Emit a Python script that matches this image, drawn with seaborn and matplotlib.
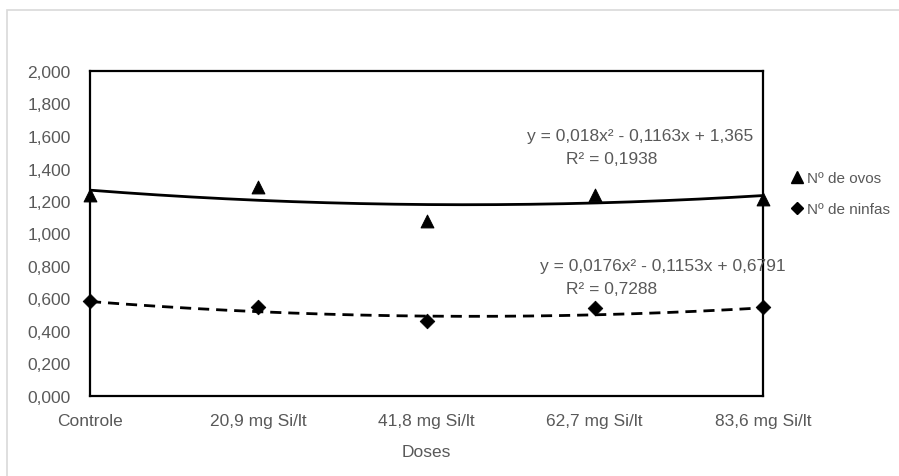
import numpy as np
import pandas as pd
import matplotlib.pyplot as plt
import seaborn as sns
from matplotlib.lines import Line2D
from matplotlib.patches import Rectangle
from matplotlib.ticker import FuncFormatter

# dados
doses = ['Controle', '20,9 mg Si/lt', '41,8 mg Si/lt', '62,7 mg Si/lt', '83,6 mg Si/lt']
ovos = [1.24, 1.286, 1.077, 1.24, 1.21]
ninfas = [0.585, 0.545, 0.46, 0.54, 0.545]
# coeficientes das linhas de tendência (polinomial de ordem 2)
coef_ovos = [0.018, -0.1163, 1.365]
coef_ninfas = [0.0176, -0.1153, 0.6791]
eq_ovos = ['y = 0,018x² - 0,1163x + 1,365', 'R² = 0,1938']
eq_ninfas = ['y = 0,0176x² - 0,1153x + 0,6791', 'R² = 0,7288']
y_ticks = [0.0, 0.2, 0.4, 0.6, 0.8, 1.0, 1.2, 1.4, 1.6, 1.8, 2.0]

sns.set_style('white')
plt.rcParams['font.family'] = ['Liberation Sans', 'DejaVu Sans']

x = np.arange(1, len(doses) + 1)
df = pd.DataFrame({'x': x, 'ovos': ovos, 'ninfas': ninfas})
xs = np.linspace(1, 5, 200)
tend = pd.DataFrame({'x': xs,
                     'ovos': np.polyval(coef_ovos, xs),
                     'ninfas': np.polyval(coef_ninfas, xs)})

fig = plt.figure(figsize=(8.99, 4.77), dpi=100)
ax = fig.add_axes([90/899, 1 - 397/477, 673/899, 325/477])

# moldura externa cinza
fig.patches.append(Rectangle((7/899, -0.1), 1.2, 1 - 11/477 + 0.1,
                             transform=fig.transFigure, fill=False,
                             edgecolor='#d9d9d9', linewidth=1.2))

sns.lineplot(data=tend, x='x', y='ovos', ax=ax, color='black', linewidth=2)
sns.lineplot(data=tend, x='x', y='ninfas', ax=ax, color='black', linewidth=2,
             linestyle=(0, (4, 2.5)))
sns.scatterplot(data=df, x='x', y='ovos', ax=ax, marker='^', s=85,
                color='black', edgecolor='black', clip_on=False, zorder=5)
sns.scatterplot(data=df, x='x', y='ninfas', ax=ax, marker='D', s=55,
                color='black', edgecolor='black', clip_on=False, zorder=5)

ax.set_xlim(1, 5)
ax.set_ylim(0, 2)
ax.set_xticks(x)
ax.set_xticklabels(doses, fontsize=12.5, color='#595959')
ax.set_yticks(y_ticks)
ax.yaxis.set_major_formatter(FuncFormatter(lambda v, p: f'{v:.3f}'.replace('.', ',')))
ax.tick_params(axis='y', labelsize=12.5, labelcolor='#595959', length=0, pad=14)
ax.tick_params(axis='x', length=0, pad=12)
ax.set_xlabel('Doses', fontsize=12.5, color='#595959', labelpad=12)
ax.set_ylabel('')
for s in ax.spines.values():
    s.set_color('black')
    s.set_linewidth(1.6)

txt = dict(transform=fig.transFigure, ha='center', va='center',
           fontsize=12.5, color='#595959')
ax.text(640/899, 1 - 137/477, eq_ovos[0], **txt)
ax.text(612/899, 1 - 160/477, eq_ovos[1], **txt)
ax.text(663/899, 1 - 267/477, eq_ninfas[0], **txt)
ax.text(612/899, 1 - 290/477, eq_ninfas[1], **txt)

handles = [Line2D([], [], marker='^', color='black', linestyle='', markersize=8.5),
           Line2D([], [], marker='D', color='black', linestyle='', markersize=6.5)]
fig.legend(handles, ['Nº de ovos', 'Nº de ninfas'], loc='upper left',
           bbox_to_anchor=(779/899, 1 - 160/477), frameon=False, fontsize=11,
           handlelength=0.8, handletextpad=0.2, labelspacing=1.1,
           borderpad=0.3, labelcolor='#595959')

fig.savefig('out.png', dpi=100)
